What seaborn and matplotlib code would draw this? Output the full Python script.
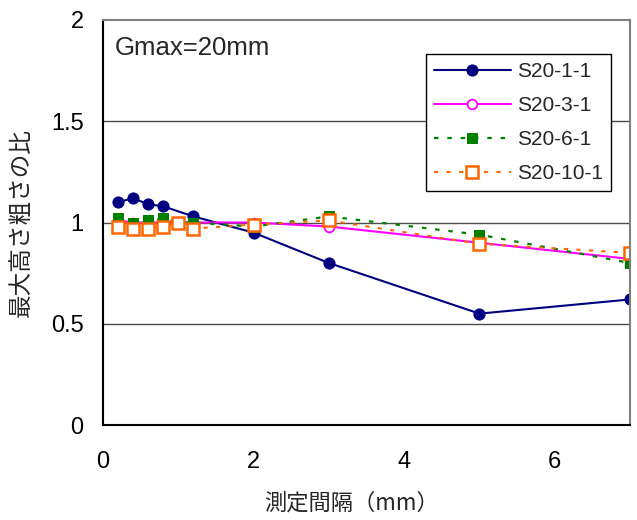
import matplotlib
matplotlib.use("Agg")
import matplotlib.pyplot as plt
import seaborn as sns
import pandas as pd

# Measurement interval (mm) for each series
x_s1 = [0.2, 0.4, 0.6, 0.8, 1.2, 2, 3, 5, 7]
x_all = [0.2, 0.4, 0.6, 0.8, 1.0, 1.2, 2, 3, 5, 7]

# Ratio of maximum height roughness
y_s1 = [1.10, 1.12, 1.09, 1.08, 1.03, 0.95, 0.80, 0.55, 0.62]
y_s3 = [1.01, 1.00, 1.00, 1.00, 1.00, 1.00, 1.00, 0.98, 0.90, 0.82]
y_s6 = [1.02, 1.00, 1.01, 1.02, 1.00, 1.00, 0.98, 1.03, 0.94, 0.80]
y_s10 = [0.98, 0.97, 0.97, 0.98, 1.00, 0.97, 0.99, 1.01, 0.895, 0.85]

labels = ["S20-1-1", "S20-3-1", "S20-6-1", "S20-10-1"]

sns.set_theme(style="white")
plt.rcParams["font.family"] = ["Liberation Sans", "Noto Sans CJK JP", "DejaVu Sans"]

fig = plt.figure(figsize=(6.37, 5.2), dpi=100)
ax = fig.add_axes([103 / 637, 1 - 425 / 520, 527 / 637, 405 / 520])

dots = (0, (2, 4))
series = [
    (x_s1, y_s1, dict(color="#000080", marker="o", linestyle="-", markersize=8,
                      markerfacecolor="#000080", markeredgecolor="#000080", linewidth=1.5)),
    (x_all, y_s3, dict(color="#FF00FF", marker="o", linestyle="-", markersize=7,
                       markerfacecolor="white", markeredgecolor="#FF00FF",
                       markeredgewidth=1.3, linewidth=1.5)),
    (x_all, y_s6, dict(color="#008000", marker="s", linestyle=dots, markersize=7,
                       markerfacecolor="#008000", markeredgecolor="#008000", linewidth=1.6)),
    (x_all, y_s10, dict(color="#FF6600", marker="s", linestyle=dots, markersize=8,
                        markerfacecolor="white", markeredgecolor="#FF6600",
                        markeredgewidth=1.8, linewidth=1.5)),
]

for (xs, ys, style), lab in zip(series, labels):
    df = pd.DataFrame({"x": xs, "y": ys})
    sns.lineplot(data=df, x="x", y="y", ax=ax, label=lab, **style)

ax.set_xlim(0, 7)
ax.set_ylim(0, 2)
ax.set_xticks([0, 2, 4, 6])
ax.set_xticklabels(["0", "2", "4", "6"])
ax.set_yticks([0, 0.5, 1, 1.5, 2])
ax.set_yticklabels(["0", "0.5", "1", "1.5", "2"])

for y in [0.5, 1, 1.5]:
    ax.axhline(y, color="#4d4d4d", linewidth=1.0, zorder=0)

ax.tick_params(axis="both", labelsize=17, colors="black", direction="in", width=1)
ax.tick_params(axis="x", length=6, pad=19)
ax.tick_params(axis="y", length=0, pad=14)
for side in ["left", "bottom"]:
    ax.spines[side].set_color("black")
    ax.spines[side].set_linewidth(1.5)
for side in ["top", "right"]:
    ax.spines[side].set_color("#808080")
    ax.spines[side].set_linewidth(1.5)

ax.set_xlabel("測定間隔（mm）", fontsize=16,
              family=["Noto Sans CJK JP", "DejaVu Sans"])
ax.set_ylabel("最大高さ粗さの比", fontsize=17,
              family=["Noto Sans CJK JP", "DejaVu Sans"])
ax.xaxis.set_label_coords(0.4715, (425 - 503) / 405, transform=ax.transAxes)
ax.yaxis.set_label_coords((21 - 103) / 527, 0.5, transform=ax.transAxes)
ax.xaxis.label.set_va("center")
ax.yaxis.label.set_va("center")

ax.text((115 - 103) / 527, (425 - 48) / 405, "Gmax=20mm", transform=ax.transAxes,
        fontsize=18.5, va="center", ha="left")

leg = ax.legend(loc="upper left", bbox_to_anchor=((426 - 103) / 527, (425 - 54) / 405),
                fontsize=15, frameon=True, fancybox=False, framealpha=1,
                edgecolor="black", handlelength=3.7, labelspacing=0.72,
                borderpad=0.38, borderaxespad=0, handletextpad=0.3)
leg.get_frame().set_linewidth(1.0)

fig.savefig("out.png", dpi=100)
